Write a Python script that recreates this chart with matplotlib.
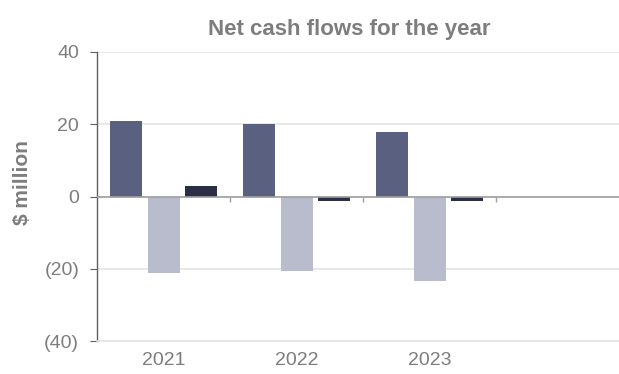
import numpy as np
import matplotlib.pyplot as plt

plt.rcParams['font.family'] = ['Liberation Sans', 'DejaVu Sans']

# data ($ million)
years = ['2021', '2022', '2023', '']
operating = [21.0, 20.1, 17.8, 0]
investing = [-21.2, -20.6, -23.4, 0]
net_flow = [3.0, -1.1, -1.1, 0]
yticks = [-40, -20, 0, 20, 40]
ytick_labels = ['(40)', '(20)', '0', '20', '40']

c_op = '#5a6080'
c_inv = '#b8bccd'
c_net = '#2b2e44'
grey = '#7d7d7d'

fig = plt.figure(figsize=(6.19, 3.74), dpi=100)
ax = fig.add_axes([0.157, 0.088, 0.86, 0.773])

x = np.arange(len(years))
w = 0.24
off = 0.282
ax.bar(x - off, operating, w, color=c_op, zorder=3)
ax.bar(x, investing, w, color=c_inv, zorder=3)
ax.bar(x + off, net_flow, w, color=c_net, zorder=3)

ax.set_xlim(-0.5, len(years) - 0.5)
ax.set_ylim(-40, 40)
ax.set_yticks(yticks)
ax.set_yticklabels(ytick_labels)
ax.set_xticks(x[:3])
ax.set_xticklabels(years[:3])

# grid and zero line
ax.yaxis.grid(True, color='#e4e4e4', linewidth=1.2, zorder=0)
ax.axhline(0, color='#a0a0a0', linewidth=1.2, zorder=4)
ax.vlines(x[:3] + 0.5, -1.4, 0, color='#a0a0a0', linewidth=1.0, zorder=4)

for s in ['top', 'right']:
    ax.spines[s].set_visible(False)
ax.spines['bottom'].set_color('#e4e4e4')
ax.spines['bottom'].set_linewidth(1.2)
ax.spines['left'].set_color('#606060')
ax.spines['left'].set_linewidth(1.0)

ax.tick_params(axis='y', length=5, color='#606060', labelsize=14,
               labelcolor=grey, pad=8)
ax.tick_params(axis='x', length=0, labelsize=14, labelcolor=grey, pad=8)

ax.set_ylabel('$ million', fontsize=15, fontweight='bold', color=grey)
ax.yaxis.set_label_coords(-0.122, 0.547)
fig.text(0.564, 0.92, 'Net cash flows for the year', ha='center', va='center',
         fontsize=16, fontweight='bold', color=grey)

fig.savefig('out.png', dpi=100)
